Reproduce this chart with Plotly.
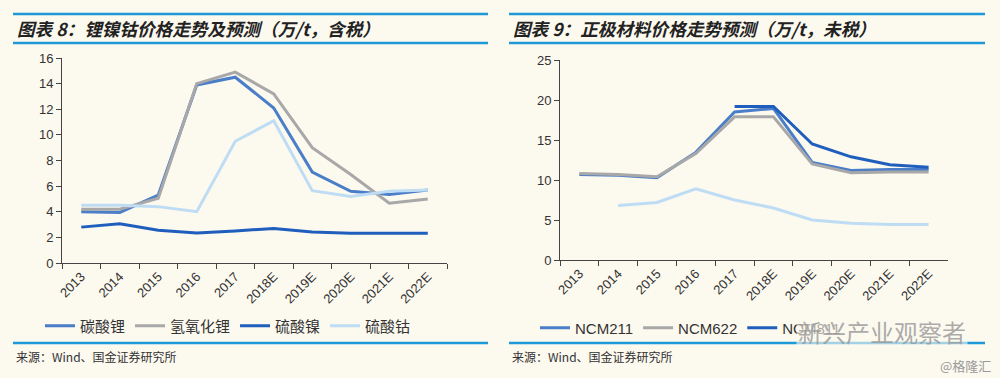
import plotly.graph_objects as go

categories = ["2013", "2014", "2015", "2016", "2017", "2018E", "2019E", "2020E", "2021E", "2022E"]

# Left chart: 锂镍钴价格 (万/t, 含税)
li2co3 = [4.0, 3.95, 5.3, 13.9, 14.5, 12.1, 7.1, 5.6, 5.35, 5.7]
lioh = [4.2, 4.2, 5.05, 14.0, 14.9, 13.2, 9.0, 6.9, 4.66, 5.0]
niso4 = [2.8, 3.07, 2.55, 2.34, 2.5, 2.7, 2.42, 2.33, 2.33, 2.33]
coso4 = [4.5, 4.5, 4.4, 4.0, 9.5, 11.1, 5.65, 5.2, 5.6, 5.7]

# Right chart: 正极材料价格 (万/t, 未税)
ncm211 = [10.7, 10.6, 10.3, 13.45, 18.5, 18.95, 12.2, 11.2, 11.3, 11.3]
ncm622 = [10.8, 10.7, 10.4, 13.3, 17.9, 17.9, 12.0, 10.9, 11.0, 11.0]
ncm811 = [None, None, None, None, 19.2, 19.2, 14.5, 12.9, 11.9, 11.6]
lfp = [None, 6.8, 7.2, 8.9, 7.5, 6.5, 5.0, 4.6, 4.45, 4.45]

W, H = 1000, 378
BG = "#FCF9EF"
C_MID = "#4A7EC8"
C_GRAY = "#A8A8A8"
C_DARK = "#1F5EBD"
C_LIGHT = "#BEDDF5"
C_RULE = "#1E9AD8"
FONT_CJK = "Noto Sans CJK SC"
FONT_NUM = "Liberation Sans"

def py(px):
    return 1 - px / H

fig = go.Figure()

left = [("碳酸锂", li2co3, C_MID), ("氢氧化锂", lioh, C_GRAY), ("硫酸镍", niso4, C_DARK), ("硫酸钴", coso4, C_LIGHT)]
for name, vals, col in left:
    fig.add_trace(go.Scatter(x=categories, y=vals, name=name, mode="lines",
                             line=dict(color=col, width=3), xaxis="x", yaxis="y",
                             legend="legend"))

right = [("NCM211", ncm211, C_MID, True), ("NCM622", ncm622, C_GRAY, True),
         ("NCM811", ncm811, C_DARK, True), ("磷酸铁锂", lfp, C_LIGHT, False)]
for name, vals, col, show in right:
    fig.add_trace(go.Scatter(x=categories, y=vals, name=name, mode="lines",
                             line=dict(color=col, width=3), xaxis="x2", yaxis="y2",
                             legend="legend2", showlegend=show, connectgaps=False))

axis_common = dict(showline=True, linecolor="#444", linewidth=1, ticks="outside",
                   tickcolor="#444", ticklen=5, showgrid=False, zeroline=False,
                   automargin=False,
                   tickfont=dict(family=FONT_NUM, size=13, color="#333"))

fig.update_layout(
    width=W, height=H, margin=dict(l=0, r=0, t=0, b=0, pad=0, autoexpand=False),
    paper_bgcolor=BG, plot_bgcolor=BG,
    xaxis=dict(domain=[62 / W, 447 / W], anchor="y", type="category",
               range=[-0.5, 9.5], tickson="boundaries", tickangle=-45, **axis_common),
    yaxis=dict(domain=[py(263), py(58)], anchor="x", range=[0, 16], dtick=2, **axis_common),
    xaxis2=dict(domain=[560 / W, 948 / W], anchor="y2", type="category",
                range=[-0.5, 9.5], tickson="boundaries", tickangle=-45, **axis_common),
    yaxis2=dict(domain=[py(260), py(60)], anchor="x2", range=[0, 25], dtick=5, **axis_common),
    legend=dict(orientation="h", x=0.04, y=py(326), xanchor="left", yanchor="middle",
                bgcolor="rgba(0,0,0,0)", font=dict(family=FONT_CJK, size=15, color="#333"),
                itemwidth=30, tracegroupgap=0),
    legend2=dict(orientation="h", x=0.535, y=py(328), xanchor="left", yanchor="middle",
                 bgcolor="rgba(0,0,0,0)", font=dict(family=FONT_NUM, size=15, color="#333"),
                 itemwidth=30),
)

# Rules above/below titles and at bottom
for x0, x1 in [(13, 488), (509, 985)]:
    for yy in [14, 43, 343]:
        fig.add_shape(type="line", xref="paper", yref="paper",
                      x0=x0 / W, x1=x1 / W, y0=py(yy), y1=py(yy),
                      line=dict(color=C_RULE, width=2.5))

titles = [(15, "图表 8：锂镍钴价格走势及预测（万/t，含税）"),
          (511, "图表 9：正极材料价格走势预测（万/t，未税）")]
for x0, t in titles:
    fig.add_annotation(x=x0 / W, y=py(28), xref="paper", yref="paper", xanchor="left",
                       yanchor="middle", showarrow=False, text="<b><i>" + t + "</i></b>",
                       font=dict(family=FONT_CJK, size=17.6, color="#222"))

for x0 in [14, 510]:
    fig.add_annotation(x=x0 / W, y=py(356), xref="paper", yref="paper", xanchor="left",
                       yanchor="middle", showarrow=False, text="来源：Wind、国金证券研究所",
                       font=dict(family=FONT_CJK, size=12, color="#333"))

# Watermarks
fig.add_annotation(x=882 / W, y=py(331), xref="paper", yref="paper", xanchor="center",
                   yanchor="middle", showarrow=False, text="新兴产业观察者",
                   font=dict(family=FONT_CJK, size=24, color="rgba(150,150,150,0.8)"),
                   bgcolor="rgba(252,249,239,0.6)")
fig.add_annotation(x=993 / W, y=py(365), xref="paper", yref="paper", xanchor="right",
                   yanchor="middle", showarrow=False, text="@格隆汇",
                   font=dict(family=FONT_CJK, size=13, color="#9a9a9a"))

post = ("document.body.style.margin='0';"
        "document.documentElement.style.overflow='hidden';"
        "document.body.style.overflow='hidden';"
        "var d=document.getElementById('{plot_id}');"
        "d.style.position='fixed';d.style.left='0px';d.style.top='0px';")

fig.write_html("out.html", config={"displayModeBar": False}, post_script=post)
